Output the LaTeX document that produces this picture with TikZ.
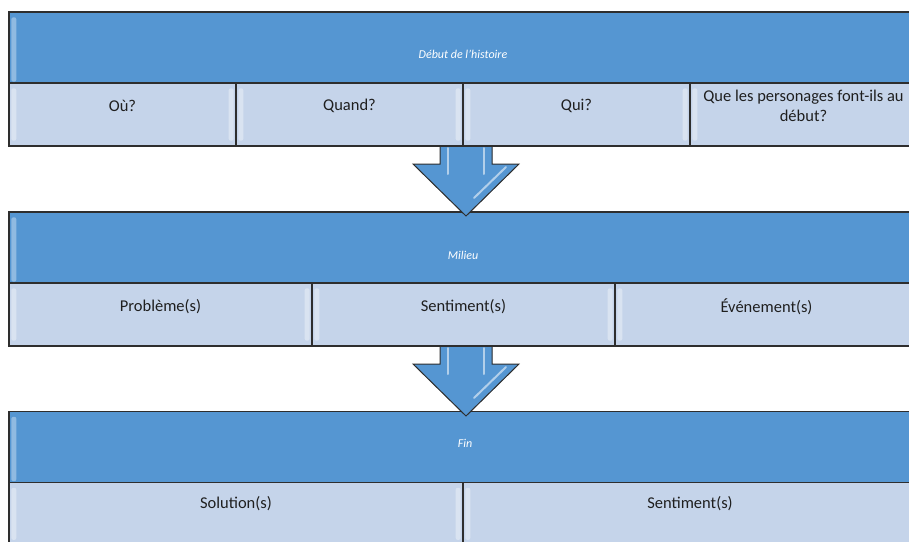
\documentclass[tikz,border=0pt]{standalone}
\usepackage{fontspec}
\setmainfont{Carlito}
\usetikzlibrary{calc}
\definecolor{hblue}{HTML}{5596D2}
\definecolor{cblue}{HTML}{C5D4EA}
\definecolor{edgegray}{HTML}{2E2E2E}
\tikzset{
  header/.style={draw=edgegray, line width=1.3pt, fill=hblue, minimum height=71pt, inner sep=0pt},
  cell/.style={draw=edgegray, line width=1.3pt, fill=cblue, minimum height=63pt, inner sep=0pt},
  celltext/.style={font=\fontsize{16.5}{20}\selectfont, text=black!88, align=center, inner sep=0pt},
  htext/.style={font=\fontsize{12}{14}\selectfont\itshape, text=white, inner sep=0pt},
  shine/.style={fill=white, opacity=0.35, rounded corners=2pt},
  blockarrow/.style={fill=hblue, draw=edgegray, line width=1pt, line join=miter},
  gloss/.style={draw=white, opacity=0.55, line width=2pt, line cap=round}
}
\newcommand\cellshine[1]{%
  \fill[shine] ($(#1.north west)+(3,6)$) rectangle ($(#1.south west)+(8,-6)$);
  \fill[shine] ($(#1.north east)+(-8,6)$) rectangle ($(#1.south east)+(-3,-6)$);
}
\begin{document}
\begin{tikzpicture}[x=1pt,y=-1pt]
\useasboundingbox (0,0) rectangle (909,541);
\clip (0,0) rectangle (909,541);

% ---------- Band 1 ----------
\node[header, minimum width=908pt] (h1) at (463,47.5) {};
\fill[shine] ($(h1.north west)+(3,6)$) rectangle ($(h1.south west)+(8,-2)$);
\node[htext] (t1) at (463,54) {Début de l’histoire};
\node[cell, minimum width=227pt] (c11) at (122.5,114.5) {};
\node[cell, minimum width=227pt] (c12) at (349.5,114.5) {};
\node[cell, minimum width=227pt] (c13) at (576.5,114.5) {};
\node[cell, minimum width=227pt] (c14) at (803.5,114.5) {};
\cellshine{c11}\cellshine{c12}\cellshine{c13}\cellshine{c14}
\node[celltext] (l11) at (122.5,106) {Où?};
\node[celltext] (l12) at (349.5,106) {Quand?};
\node[celltext] (l13) at (576.5,106) {Qui?};
\node[celltext] (l14) at (803.5,106) {Que les personages font-ils au\\début?};

% ---------- Band 2 ----------
\node[header, minimum width=908pt] (h2) at (463,247.5) {};
\fill[shine] ($(h2.north west)+(3,6)$) rectangle ($(h2.south west)+(8,-2)$);
\node[htext] (t2) at (463,255) {Milieu};
\node[cell, minimum width=303pt] (c21) at (160.5,314.5) {};
\node[cell, minimum width=303pt] (c22) at (463.5,314.5) {};
\node[cell, minimum width=303pt] (c23) at (766.5,314.5) {};
\cellshine{c21}\cellshine{c22}\cellshine{c23}
\node[celltext] (l21) at (160.5,307) {Problème(s)};
\node[celltext] (l22) at (463.5,307) {Sentiment(s)};
\node[celltext] (l23) at (766.5,307) {Événement(s)};

% ---------- Band 3 ----------
\node[header, minimum width=908pt] (h3) at (463,447) {};
\fill[shine] ($(h3.north west)+(3,6)$) rectangle ($(h3.south west)+(8,-2)$);
\node[htext] (t3) at (465,443) {Fin};
\node[cell, minimum width=454pt] (c31) at (236,514) {};
\node[cell, minimum width=454pt] (c32) at (690,514) {};
\fill[shine] ($(c31.north west)+(3,6)$) rectangle ($(c31.north west)+(8,58)$);
\fill[shine] ($(c31.north east)+(-8,6)$) rectangle ($(c31.north east)+(-3,58)$);
\fill[shine] ($(c32.north west)+(3,6)$) rectangle ($(c32.north west)+(8,58)$);
\node[celltext] (l31) at (236,504) {Solution(s)};
\node[celltext] (l32) at (690,504) {Sentiment(s)};

% ---------- Block arrows ----------
\coordinate (a1) at (466,147);
\coordinate (a2) at (466,347);
\foreach \a in {a1,a2}{
  \fill[hblue] (\a) ++(-26,0) -- ++(0,17) -- ++(-27,0) -- ++(53,52) -- ++(53,-52) -- ++(-27,0) -- ++(0,-17) -- cycle;
  \draw[blockarrow] (\a) ++(-26,0) -- ++(0,17) -- ++(-27,0) -- ++(53,52) -- ++(53,-52) -- ++(-27,0) -- ++(0,-17);
  \draw[gloss] (\a) ++(-18,1) -- ++(0,26);
  \draw[gloss] (\a) ++(18,1) -- ++(0,26);
  \draw[gloss] (\a) ++(40,20) -- ++(-32,31);
}
\end{tikzpicture}
\end{document}
